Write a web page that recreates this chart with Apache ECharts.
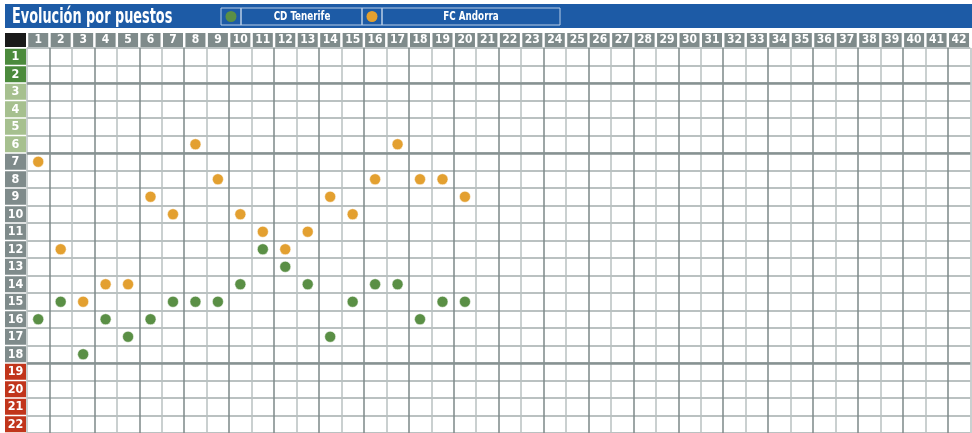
<!DOCTYPE html>
<html>
<head>
<meta charset="utf-8">
<script src="https://cdn.jsdelivr.net/npm/echarts@6/dist/echarts.min.js"></script>
<style>
  html, body { margin: 0; padding: 0; background: #fff; }
  #chart { width: 972px; height: 433px; }
</style>
</head>
<body>
<div id="chart"></div>
<script>
/* datos: jornadas, puestos y posición de cada equipo por jornada */
var jornadas = ["1","2","3","4","5","6","7","8","9","10","11","12","13","14","15","16","17","18","19","20","21",
  "22","23","24","25","26","27","28","29","30","31","32","33","34","35","36","37","38","39","40","41","42"];
var puestos = ["1","2","3","4","5","6","7","8","9","10","11","12","13","14","15","16","17","18","19","20","21","22"];
var tenerife = [16, 15, 18, 16, 17, 16, 15, 15, 15, 14, 12, 13, 14, 17, 15, 14, 14, 16, 15, 15];
var andorra  = [7, 12, 15, 14, 14, 9, 10, 6, 8, 10, 11, 12, 11, 9, 10, 8, 6, 8, 8, 9];
var separadores = [2, 6, 18];

var FONT = "'Liberation Sans Narrow', 'DejaVu Sans Condensed', 'Liberation Sans', sans-serif";
var VERDE = "#5a8f45";
var NARANJA = "#e3a030";
var AZUL = "#1d5ba6";
var GRIS = "#7f8b8b";

function grupo(p) {
  var n = parseInt(p, 10);
  if (n <= 2) return "a";
  if (n <= 6) return "b";
  if (n <= 18) return "c";
  return "d";
}

function celda(bg) {
  return {
    backgroundColor: bg, color: "#fff", width: 21, height: 16, lineHeight: 16,
    align: "center", fontSize: 12.5, fontWeight: "bold", fontFamily: FONT
  };
}

function toPoints(arr) {
  return arr.map(function(p, i) { return [i, p - 1]; });
}

var chart = echarts.init(document.getElementById("chart"));

chart.setOption({
  animation: false,
  backgroundColor: "#fff",
  grid: { left: 27, top: 48, width: 946, height: 385, containLabel: false },
  xAxis: {
    type: "category",
    position: "top",
    data: jornadas,
    boundaryGap: true,
    axisLine: { show: false },
    axisTick: { show: false },
    axisLabel: {
      interval: 0, margin: 1,
      color: "#fff", fontSize: 12, fontWeight: "bold", fontFamily: FONT,
      backgroundColor: GRIS, width: 20, height: 14, lineHeight: 15, align: "center"
    },
    splitLine: { show: true, interval: 0, lineStyle: { color: ["#b9c1c1", "#7d8989"], width: 1.5 } }
  },
  yAxis: [{
    type: "category",
    data: puestos,
    inverse: true,
    boundaryGap: true,
    axisLine: { show: false },
    axisTick: { show: false },
    axisLabel: {
      interval: 0, margin: 1,
      formatter: function(v) { return "{" + grupo(v) + "|" + v + "}"; },
      rich: {
        a: celda("#4b8a3c"),
        b: celda("#a6c08f"),
        c: celda(GRIS),
        d: celda("#c1351b")
      }
    },
    splitLine: { show: true, interval: 0, lineStyle: { color: "#a3adad", width: 1.5 } }
  }, {
    type: "value", show: false, inverse: true, min: 0, max: 22
  }],
  series: [{
    name: "CD Tenerife",
    type: "scatter",
    symbolSize: 11,
    itemStyle: { color: VERDE, opacity: 1, borderColor: "#fff", borderWidth: 0.5 },
    data: toPoints(tenerife),
    z: 5
  }, {
    name: "FC Andorra",
    type: "scatter",
    symbolSize: 11,
    itemStyle: { color: NARANJA, opacity: 1, borderColor: "#fff", borderWidth: 0.5 },
    data: toPoints(andorra),
    z: 5
  }, {
    type: "scatter",
    yAxisIndex: 1,
    data: [],
    silent: true,
    markLine: {
      silent: true, symbol: "none", label: { show: false },
      lineStyle: { type: "solid", color: "#879292", width: 2.5 },
      data: separadores.map(function(s) { return { yAxis: s }; })
    }
  }],
  graphic: [
    { type: "rect", shape: { x: 5, y: 4, width: 967, height: 24 }, style: { fill: AZUL } },
    { type: "text", x: 12, y: 17, scaleX: 0.65, style: { text: "Evolución por puestos", fill: "#fff",
      font: "bold 22px " + FONT, verticalAlign: "middle" } },
    { type: "rect", shape: { x: 221, y: 8, width: 20, height: 17 }, style: { fill: "none", stroke: "#b8cde6", lineWidth: 1 } },
    { type: "rect", shape: { x: 241, y: 8, width: 121, height: 17 }, style: { fill: "none", stroke: "#b8cde6", lineWidth: 1 } },
    { type: "rect", shape: { x: 362, y: 8, width: 20, height: 17 }, style: { fill: "none", stroke: "#b8cde6", lineWidth: 1 } },
    { type: "rect", shape: { x: 382, y: 8, width: 178, height: 17 }, style: { fill: "none", stroke: "#b8cde6", lineWidth: 1 } },
    { type: "circle", shape: { cx: 231, cy: 16.5, r: 5.5 }, style: { fill: VERDE } },
    { type: "circle", shape: { cx: 372, cy: 16.5, r: 5.5 }, style: { fill: NARANJA } },
    { type: "text", x: 302, y: 17, scaleX: 0.75, style: { text: "CD Tenerife", fill: "#fff", font: "bold 13px " + FONT,
      align: "center", verticalAlign: "middle" } },
    { type: "text", x: 471, y: 17, scaleX: 0.75, style: { text: "FC Andorra", fill: "#fff", font: "bold 13px " + FONT,
      align: "center", verticalAlign: "middle" } },
    { type: "rect", shape: { x: 5, y: 33, width: 21, height: 14 }, style: { fill: "#1a1a1a" } }
  ]
});
</script>
</body>
</html>
